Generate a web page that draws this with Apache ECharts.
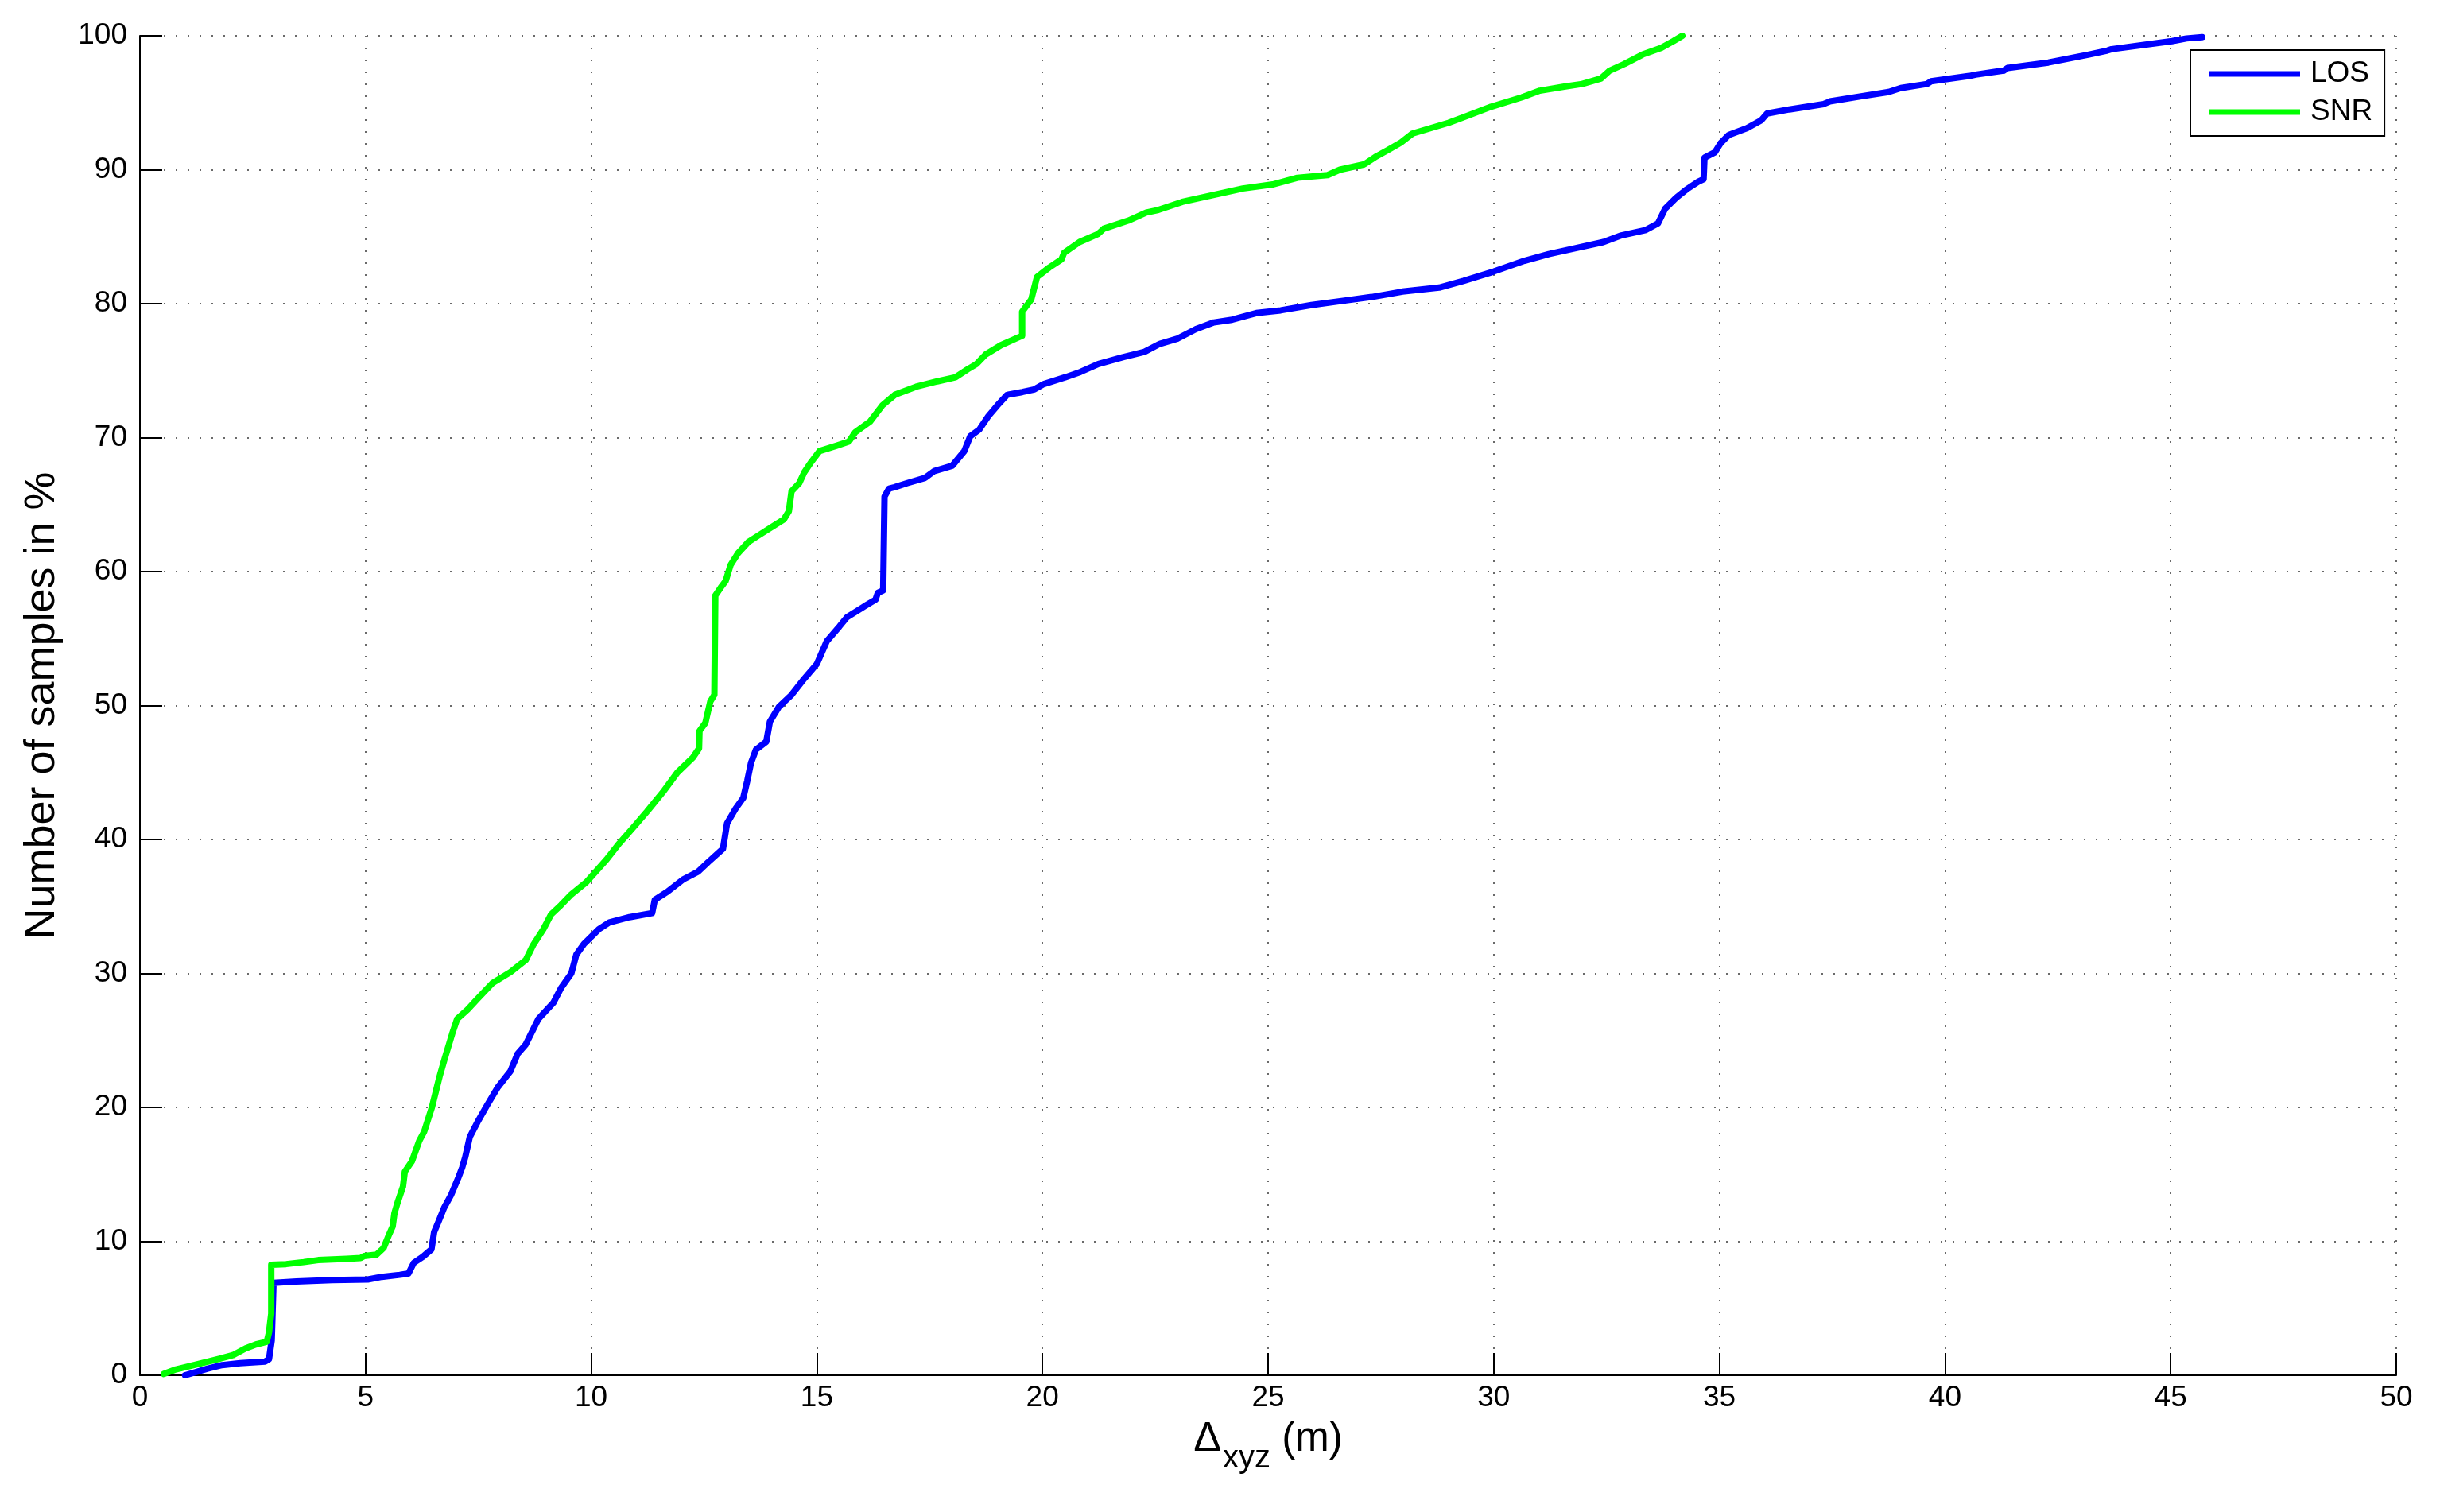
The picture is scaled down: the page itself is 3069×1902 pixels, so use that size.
<!DOCTYPE html>
<html>
<head>
<meta charset="utf-8">
<script src="https://cdn.jsdelivr.net/npm/echarts@6/dist/echarts.min.js"></script>
<style>
  html, body { margin: 0; padding: 0; background: #fff; }
  #chart { width: 3069px; height: 1902px; }
</style>
</head>
<body>
<div id="chart"></div>
<script>
// ---- Data ----
const seriesNames = ['LOS', 'SNR'];

const losX = [1.0,1.5,1.82,2.22,2.77,2.86,2.92,2.96,3.47,4.26,5.05,5.36,5.76,5.95,6.07,6.27,6.46,6.52,6.62,6.74,6.9,7.05,7.14,7.21,7.31,7.48,7.7,7.93,8.21,8.37,8.55,8.83,9.16,9.33,9.56,9.67,9.84,10.17,10.4,10.85,11.35,11.41,11.69,12.03,12.37,12.59,12.92,13.01,13.2,13.37,13.46,13.54,13.65,13.88,13.96,14.16,14.44,14.72,15.0,15.22,15.5,15.67,16.05,16.3,16.35,16.47,16.5,16.6,16.72,17.0,17.4,17.6,18.0,18.27,18.4,18.6,18.8,19.0,19.22,19.55,19.82,20.03,20.5,20.84,21.24,21.78,22.26,22.6,23.0,23.4,23.8,24.2,24.74,25.28,25.96,26.63,27.3,27.98,28.79,29.33,30.0,30.68,31.22,31.76,32.43,32.83,33.37,33.64,33.8,34.04,34.26,34.53,34.65,34.67,34.9,35.03,35.21,35.61,35.93,36.06,36.55,37.31,37.45,38.17,38.75,39.02,39.6,39.69,40.54,40.68,41.3,41.39,42.29,43.19,43.6,43.69,45.03,45.35,45.7];
const losY = [0,0.5,0.76,0.9,1.03,1.2,2.6,6.9,7.0,7.1,7.15,7.35,7.5,7.6,8.4,8.85,9.4,10.7,11.5,12.5,13.5,14.7,15.5,16.3,17.8,18.9,20.2,21.5,22.7,24.0,24.7,26.6,27.8,28.9,30.0,31.4,32.2,33.3,33.8,34.2,34.5,35.5,36.1,37.0,37.6,38.3,39.3,41.2,42.3,43.1,44.4,45.7,46.7,47.3,48.8,49.9,50.8,52.0,53.1,54.8,55.9,56.6,57.4,57.9,58.4,58.6,65.6,66.2,66.3,66.6,67.0,67.5,67.9,69.0,70.1,70.6,71.6,72.4,73.2,73.4,73.6,74.0,74.5,74.9,75.5,76.0,76.4,77.0,77.4,78.1,78.6,78.8,79.3,79.5,79.9,80.2,80.5,80.9,81.2,81.7,82.4,83.2,83.7,84.1,84.6,85.1,85.5,86.0,87.1,87.9,88.5,89.1,89.3,90.9,91.3,92.0,92.6,93.1,93.7,94.2,94.5,94.9,95.1,95.5,95.8,96.1,96.4,96.6,97.0,97.1,97.4,97.6,98.0,98.6,98.9,99.0,99.6,99.8,99.9];

const snrX = [0.53,0.8,1.27,1.75,2.06,2.34,2.57,2.81,2.86,2.91,2.91,3.24,3.63,3.95,4.58,4.89,4.97,5.24,5.4,5.52,5.6,5.64,5.71,5.83,5.87,6.03,6.19,6.3,6.47,6.64,6.75,6.92,7.03,7.26,7.48,7.82,8.21,8.55,8.71,8.94,9.11,9.33,9.56,9.89,10.34,10.62,10.96,11.24,11.58,11.91,12.25,12.39,12.4,12.53,12.64,12.73,12.75,12.87,12.98,13.09,13.26,13.48,13.71,13.99,14.27,14.38,14.44,14.61,14.72,14.88,15.06,15.44,15.71,15.85,16.18,16.45,16.73,17.2,17.67,18.07,18.34,18.54,18.74,19.08,19.41,19.55,19.55,19.75,19.88,20.15,20.42,20.48,20.82,21.23,21.36,21.9,22.3,22.57,23.1,23.9,24.44,25.1,25.65,26.32,26.59,27.13,27.4,27.67,27.93,28.2,28.6,29.0,29.4,29.94,30.62,31.02,31.56,31.96,32.37,32.57,32.9,33.3,33.71,33.98,34.18];
const snrY = [0.1,0.44,0.83,1.23,1.5,2.0,2.3,2.5,3.2,4.6,8.25,8.3,8.45,8.6,8.7,8.75,8.9,9.0,9.5,10.5,11.1,12.1,12.9,14.1,15.2,16.0,17.5,18.2,20.0,22.3,23.6,25.5,26.6,27.3,28.1,29.3,30.1,31.0,32.1,33.3,34.4,35.1,35.9,36.8,38.5,39.7,41.0,42.1,43.5,45.0,46.1,46.8,48.1,48.7,50.3,50.8,58.2,58.8,59.3,60.5,61.4,62.2,62.7,63.3,63.9,64.5,66.0,66.6,67.4,68.2,69.0,69.4,69.7,70.4,71.2,72.4,73.2,73.8,74.2,74.5,75.1,75.5,76.2,76.9,77.4,77.6,79.4,80.3,82.0,82.7,83.3,83.8,84.6,85.2,85.6,86.2,86.8,87.0,87.6,88.2,88.6,88.9,89.4,89.6,90.0,90.4,91.0,91.5,92.0,92.7,93.1,93.5,94.0,94.7,95.4,95.9,96.2,96.4,96.8,97.4,97.9,98.6,99.1,99.6,100];

const xAxisRange = [0, 50, 5];   // min, max, interval
const yAxisRange = [0, 100, 10];
const xAxisTitle = ['Δ', 'xyz', '(m)'];
const yAxisTitle = 'Number of samples in %';

// ---- Chart ----
const pairs = (xs, ys) => xs.map((x, i) => [x, ys[i]]);
const FONT = '"Liberation Sans", Arial, Helvetica, sans-serif';
const chart = echarts.init(document.getElementById('chart'), null, { renderer: 'canvas' });

const axisCommon = {
  axisLine: { show: true, onZero: false, lineStyle: { color: '#000', width: 2 } },
  axisTick: { show: true, inside: true, length: 28, lineStyle: { color: '#000', width: 2 } },
  splitLine: { show: true, lineStyle: { color: '#6a6a6a', width: 2, type: [2, 13] } },
  axisLabel: { color: '#000', fontSize: 37, fontFamily: FONT }
};

chart.setOption({
  animation: false,
  backgroundColor: '#fff',
  grid: { left: 176, right: 55, top: 45, bottom: 172, containLabel: false },
  legend: {
    data: seriesNames.map(n => ({ name: n, icon: 'rect' })),
    orient: 'vertical',
    left: 2755,
    top: 63,
    itemWidth: 115,
    itemHeight: 7,
    itemGap: 8,
    padding: [10, 15, 10, 23],
    borderColor: '#000',
    borderWidth: 2,
    backgroundColor: '#fff',
    textStyle: { color: '#000', fontSize: 37, fontFamily: FONT, lineHeight: 40, padding: [0, 0, 0, 8] }
  },
  xAxis: Object.assign({}, axisCommon, {
    type: 'value',
    min: xAxisRange[0], max: xAxisRange[1], interval: xAxisRange[2],
    axisLabel: Object.assign({}, axisCommon.axisLabel, { margin: 10 }),
    name: '{d|' + xAxisTitle[0] + '}{s|' + xAxisTitle[1] + '}{n| ' + xAxisTitle[2] + '}',
    nameLocation: 'middle',
    nameGap: 55,
    nameTextStyle: {
      color: '#000', fontFamily: FONT,
      rich: {
        d: { fontSize: 52, fontFamily: FONT, color: '#000', lineHeight: 60, verticalAlign: 'top' },
        s: { fontSize: 40, fontFamily: FONT, color: '#000', lineHeight: 60, verticalAlign: 'top', padding: [30, 0, 0, 2] },
        n: { fontSize: 51, fontFamily: FONT, color: '#000', lineHeight: 60, verticalAlign: 'top' }
      }
    }
  }),
  yAxis: Object.assign({}, axisCommon, {
    type: 'value',
    min: yAxisRange[0], max: yAxisRange[1], interval: yAxisRange[2],
    axisLabel: Object.assign({}, axisCommon.axisLabel, { margin: 16 }),
    name: yAxisTitle,
    nameLocation: 'middle',
    nameGap: 96,
    nameTextStyle: { color: '#000', fontSize: 54, fontFamily: FONT, lineHeight: 54 }
  }),
  series: [
    {
      name: seriesNames[0], type: 'line', data: pairs(losX, losY),
      showSymbol: false, symbol: 'none', color: '#0000ff',
      lineStyle: { color: '#0000ff', width: 8, join: 'round', cap: 'round' }
    },
    {
      name: seriesNames[1], type: 'line', data: pairs(snrX, snrY),
      showSymbol: false, symbol: 'none', color: '#00ff00',
      lineStyle: { color: '#00ff00', width: 8, join: 'round', cap: 'round' }
    }
  ]
});
</script>
</body>
</html>
